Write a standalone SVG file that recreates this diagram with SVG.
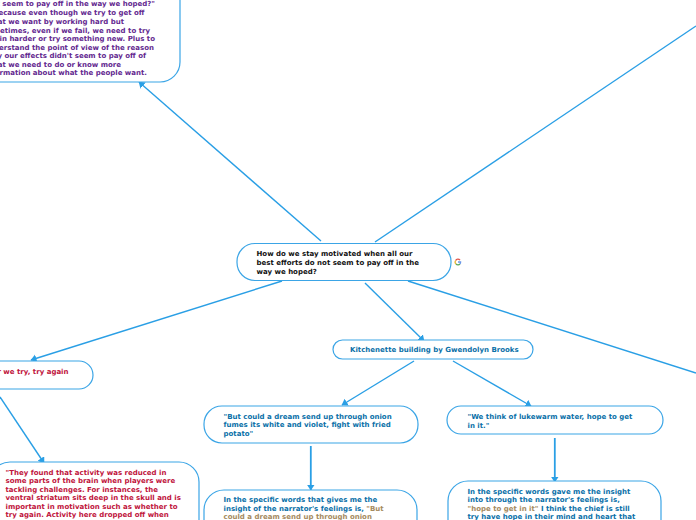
<svg xmlns="http://www.w3.org/2000/svg" width="696" height="520" viewBox="0 0 696 520">
<style>
text{font-family:"DejaVu Sans",Verdana,sans-serif;font-weight:700;font-size:7px}
.n{fill:#fff;stroke:#3ba5e6;stroke-width:1.2}
.c{fill:none;stroke:#2a9fe5;stroke-width:1.4;marker-end:url(#a)}
.k{fill:#111}.p{fill:#63288f}.r{fill:#c0143c}.b{fill:#0a70a8}.t{fill:#a58a5e}
.e{text-anchor:end}
</style>
<defs><marker id="a" markerUnits="userSpaceOnUse" markerWidth="8" markerHeight="9" refX="5.500" refY="4" orient="auto"><path d="M0 0L6 4L0 8Z" fill="#2a9fe5"/></marker></defs>
<rect width="696" height="520" fill="#fff"/>
<g id="connectors">
<path class="c" d="M321 241L139 82"/>
<path class="c" d="M375 242L696 26" style="marker-end:none"/>
<path class="c" d="M282 281L31 360"/>
<path class="c" d="M365 283L424 341"/>
<path class="c" d="M408 281L696 373" style="marker-end:none"/>
<path class="c" d="M414 361L342 405"/>
<path class="c" d="M453 361L531 406"/>
<path class="c" d="M310.800 446L310.800 490" style="stroke-width:1.800"/>
<path class="c" d="M554.800 438L554.800 482" style="stroke-width:1.800"/>
<path class="c" d="M0 397L44 463"/>
</g>
<g id="node-top">
<rect class="n" x="-60" y="-40" width="240" height="122" rx="20"/>
<g class="p">
<text class="e" x="155" y="6">not seem to pay off in the way we hoped?"</text>
<text class="e" x="144.500" y="15">because even though we try to get off</text>
<text class="e" x="124" y="23.500">that we want by working hard but</text>
<text class="e" x="150" y="32.500">sometimes, even if we fail, we need to try</text>
<text class="e" x="155" y="41">again harder or try something new. Plus to</text>
<text class="e" x="154" y="50">understand the point of view of the reason</text>
<text class="e" x="146" y="58">why our effects didn't seem to pay off of</text>
<text class="e" x="121" y="67">what we need to do or know more</text>
<text class="e" x="147" y="75">information about what the people want.</text>
</g>
</g>
<g id="node-center">
<rect class="n" x="237" y="243.500" width="214" height="37" rx="18"/>
<text class="k" x="256.500" y="256">How do we stay motivated when all our</text>
<text class="k" x="256.500" y="265">best efforts do not seem to pay off in the</text>
<text class="k" x="256.500" y="273.500">way we hoped?</text>
<g fill="none" stroke-width="1.300">
<path d="M460 260.200A2.600 2.600 0 0 0 455.600 260.600" stroke="#e0564a"/>
<path d="M455.600 260.600A2.600 2.600 0 0 0 456 264" stroke="#e8b93a"/>
<path d="M456 264A2.600 2.600 0 0 0 460 263.800" stroke="#5aa85c"/>
<path d="M460 263.800A2.600 2.600 0 0 0 460.600 262H458" stroke="#6a96e8"/>
</g>
</g>
<g id="node-try">
<rect class="n" x="-60" y="361" width="153" height="28" rx="14"/>
<text class="r e" x="68.500" y="374">After we try, try again</text>
</g>
<g id="node-brain">
<rect class="n" x="-10" y="462" width="209" height="90" rx="20"/>
<g class="r">
<text x="5.500" y="475">"They found that activity was reduced in</text>
<text x="5.500" y="483">some parts of the brain when players were</text>
<text x="5.500" y="492">tackling challenges. For instances, the</text>
<text x="5.500" y="500">ventral striatum sits deep in the skull and is</text>
<text x="5.500" y="509">important in motivation such as whether to</text>
<text x="5.500" y="517">try again. Activity here dropped off when</text>
</g>
</g>
<g id="node-kitchenette">
<rect class="n" x="333" y="340" width="200" height="19" rx="9.500"/>
<text class="b" x="350" y="352">Kitchenette building by Gwendolyn Brooks</text>
</g>
<g id="node-onion">
<rect class="n" x="204" y="406" width="214" height="37" rx="18"/>
<g class="b">
<text x="223.500" y="419">"But could a dream send up through onion</text>
<text x="223.500" y="427">fumes its white and violet, fight with fried</text>
<text x="223.500" y="436">potato"</text>
</g>
</g>
<g id="node-lukewarm">
<rect class="n" x="447" y="406" width="216" height="28" rx="14"/>
<g class="b">
<text x="467.500" y="419">"We think of lukewarm water, hope to get</text>
<text x="467.500" y="428">in it."</text>
</g>
</g>
<g id="node-insight-left">
<rect class="n" x="204" y="490" width="213" height="60" rx="20"/>
<text class="b" x="223.500" y="502">In the specific words that gives me the</text>
<text class="b" x="223.500" y="511">insight of the narrator's feelings is, <tspan class="t">"But</tspan></text>
<text class="t" x="223.500" y="519">could a dream send up through onion</text>
</g>
<g id="node-insight-right">
<rect class="n" x="448" y="481" width="213" height="60" rx="20"/>
<text class="b" x="467.500" y="494">In the specific words gave me the insight</text>
<text class="b" x="467.500" y="502">into through the narrator's feelings is,</text>
<text class="t" x="467.500" y="511">"hope to get in it" <tspan class="b">I think the chief is still</tspan></text>
<text class="b" x="467.500" y="519">try have hope in their mind and heart that</text>
</g>
</svg>
